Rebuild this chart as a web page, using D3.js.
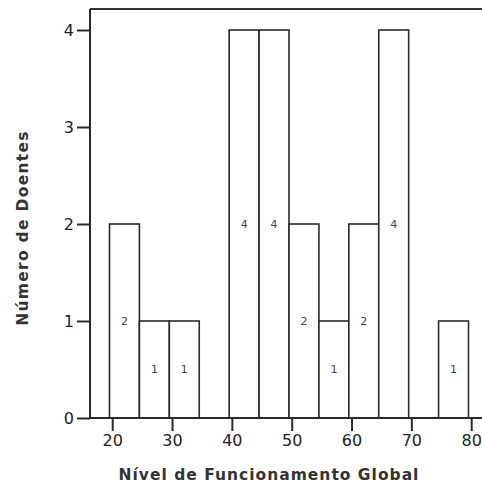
<!DOCTYPE html>
<html>
<head>
<meta charset="utf-8">
<script src="https://cdn.jsdelivr.net/npm/d3@7"></script>
<style>
  html, body { margin: 0; padding: 0; background: #fff; }
  svg { display: block; }
</style>
</head>
<body>
<svg id="chart" width="482" height="489"></svg>
<script>
// Histogram bins (lower edge, upper edge) and counts
const binStarts = [20, 25, 30, 35, 40, 45, 50, 55, 60, 65, 70, 75];
const binEnds   = [25, 30, 35, 40, 45, 50, 55, 60, 65, 70, 75, 80];
const counts    = [2, 1, 1, 0, 4, 4, 2, 1, 2, 4, 0, 1];
const xTicks = [20, 30, 40, 50, 60, 70, 80];
const yTicks = [0, 1, 2, 3, 4];
const xTitle = "Nível de Funcionamento Global";
const yTitle = "Número de Doentes";

const svg = d3.select("#chart");
const W = 482, H = 489;
const plotLeft = 90, plotTop = 9, plotBottom = 418;

const x = d3.scaleLinear().domain([20, 80]).range([109.5, 468.5]);
const y = d3.scaleLinear().domain([0, 4]).range([plotBottom, 30]);

const bins = binStarts.map((s, i) => ({ x0: s, x1: binEnds[i], n: counts[i] }))
  .filter(d => d.n > 0);

// Bars
svg.append("g").selectAll("rect")
  .data(bins)
  .join("rect")
  .attr("x", d => x(d.x0))
  .attr("y", d => y(d.n))
  .attr("width", d => x(d.x1) - x(d.x0))
  .attr("height", d => y(0) - y(d.n))
  .attr("fill", "#fff")
  .attr("stroke", "#2a2a2a")
  .attr("stroke-width", 1.6);

// Count labels in the middle of each bar
svg.append("g").selectAll("text")
  .data(bins)
  .join("text")
  .attr("x", d => (x(d.x0) + x(d.x1)) / 2)
  .attr("y", d => y(d.n / 2))
  .attr("dy", "0.36em")
  .attr("text-anchor", "middle")
  .attr("font-family", "DejaVu Sans, sans-serif")
  .attr("font-size", 11)
  .attr("fill", "#444")
  .text(d => d.n);

// Frame: top line
svg.append("line")
  .attr("x1", plotLeft).attr("x2", W + 2)
  .attr("y1", plotTop).attr("y2", plotTop)
  .attr("stroke", "#333").attr("stroke-width", 2);

// Y axis
const yAxis = d3.axisLeft(y).tickValues(yTicks).tickSize(13).tickPadding(3).tickFormat(d3.format("d"));
const gy = svg.append("g").attr("transform", `translate(${plotLeft},0)`).call(yAxis);
gy.select(".domain").remove();
gy.append("line").attr("x1", 0).attr("x2", 0).attr("y1", plotTop).attr("y2", plotBottom + 1)
  .attr("stroke", "#2a2a2a").attr("stroke-width", 2);

// X axis (tick marks sit slightly right of the bin edges)
const xAxis = d3.axisBottom(x).tickValues(xTicks).tickSize(13).tickPadding(4).tickFormat(d3.format("d"));
const gx = svg.append("g").attr("transform", `translate(2.7,${plotBottom})`).call(xAxis);
gx.select(".domain").remove();
svg.append("line").attr("x1", plotLeft).attr("x2", W + 2).attr("y1", plotBottom).attr("y2", plotBottom)
  .attr("stroke", "#2a2a2a").attr("stroke-width", 2);

[gx, gy].forEach(g => {
  g.selectAll(".tick line").attr("stroke", "#2a2a2a").attr("stroke-width", 2);
  g.selectAll(".tick text")
    .attr("font-family", "DejaVu Sans, sans-serif")
    .attr("font-size", 16)
    .attr("fill", "#222");
});

// Axis titles
svg.append("text")
  .attr("x", 269).attr("y", 480)
  .attr("text-anchor", "middle")
  .attr("font-family", "DejaVu Sans, sans-serif")
  .attr("font-weight", "bold")
  .attr("font-size", 15.5)
  .attr("letter-spacing", 1)
  .attr("fill", "#333")
  .text(xTitle);

svg.append("text")
  .attr("transform", "translate(28,228) rotate(-90)")
  .attr("text-anchor", "middle")
  .attr("font-family", "DejaVu Sans, sans-serif")
  .attr("font-weight", "bold")
  .attr("font-size", 15.5)
  .attr("letter-spacing", 1.3)
  .attr("fill", "#333")
  .text(yTitle);
</script>
</body>
</html>
